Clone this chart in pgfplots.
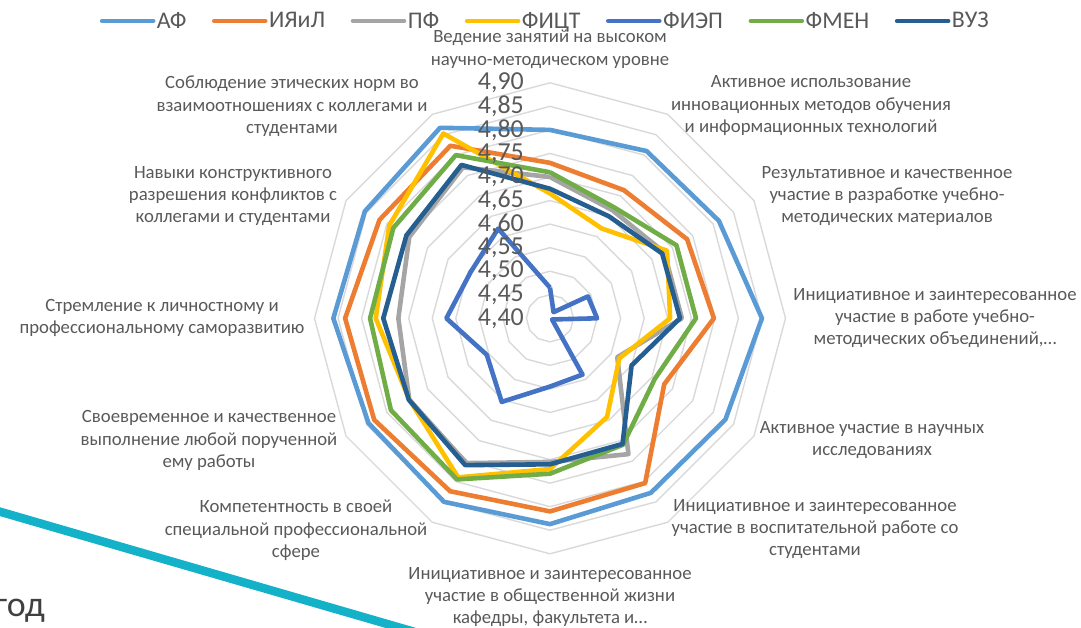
\documentclass[border=0pt]{standalone}
\usepackage{pgfplots}
\pgfplotsset{compat=1.18}
\usepackage{pgfplotstable}
\usepackage{fontspec}
\setmainfont{Carlito}

\definecolor{cAF}{HTML}{5B9BD5}
\definecolor{cIYaiL}{HTML}{ED7D31}
\definecolor{cPF}{HTML}{A5A5A5}
\definecolor{cFICT}{HTML}{FFC000}
\definecolor{cFIEP}{HTML}{4472C4}
\definecolor{cFMEN}{HTML}{70AD47}
\definecolor{cVUZ}{HTML}{255E91}
\definecolor{txt}{HTML}{595959}
\definecolor{gridc}{HTML}{D9D9D9}
\definecolor{cyanline}{RGB}{20,178,200}

\pgfplotstableread{
k AF IYaiL PF FICT FIEP FMEN VUZ
0 4.800 4.730 4.700 4.665 4.465 4.710 4.675
1 4.810 4.714 4.665 4.620 4.415 4.672 4.650
2 4.814 4.736 4.680 4.687 4.493 4.710 4.675
3 4.850 4.748 4.680 4.655 4.500 4.710 4.676
4 4.830 4.680 4.565 4.570 4.405 4.657 4.600
5 4.828 4.804 4.733 4.642 4.538 4.710 4.708
6 4.837 4.810 4.705 4.720 4.545 4.730 4.710
7 4.850 4.824 4.755 4.790 4.605 4.795 4.760
8 4.845 4.831 4.745 4.745 4.555 4.790 4.746
9 4.860 4.835 4.722 4.770 4.620 4.782 4.754
10 4.854 4.818 4.745 4.794 4.595 4.784 4.752
11 4.867 4.823 4.770 4.853 4.620 4.800 4.776
12 4.800 4.730 4.700 4.665 4.465 4.710 4.675
}\data

\newcommand{\radarplot}[2]{\addplot[#1, line width=4.6bp, line join=round] table[x expr={550+(\thisrow{#2}-4.4)*471*sin(30*\thisrow{k})}, y expr={309.7+(\thisrow{#2}-4.4)*471*cos(30*\thisrow{k})}] {\data};}
\newcommand{\lblfont}{\fontsize{18.8}{22.5}\selectfont}
\newcommand{\tickfont}{\fontsize{26}{28}\selectfont}
\newcommand{\tlab}[2]{\node[anchor=east, text=txt, font=\tickfont, inner sep=0pt] at (axis cs:524,#1) {#2};}

\begin{document}
\begin{tikzpicture}
\begin{axis}[
  at={(0,0)}, anchor=origin,
  scale only axis, width=1081bp, height=628bp,
  xmin=0, xmax=1081, ymin=0, ymax=628,
  hide axis, clip=true,
  legend columns=7,
  legend style={at={(0.5042,0.9666)}, anchor=center, draw=none, fill=none,
    font=\fontsize{24}{28}\selectfont, text=txt,
    nodes={inner sep=1.5bp},
    /tikz/every even column/.append style={column sep=24bp}},
  legend image code/.code={\draw[#1, line cap=round] (0bp,0bp) -- (51bp,0bp);},
]
% rings
\pgfplotsinvokeforeach{0.05,0.1,0.15,0.2,0.25,0.3,0.35,0.4,0.45,0.5}{
  \addplot[gridc, line width=1.4bp, forget plot] table[x expr={550+#1*471*sin(30*\thisrow{k})}, y expr={309.7+#1*471*cos(30*\thisrow{k})}] {\data};
}
% decorative line
\addplot[cyanline, line width=8.5bp, forget plot] coordinates {(-10,119.2) (420,-5.5)};

\radarplot{cAF}{AF}
\radarplot{cIYaiL}{IYaiL}
\radarplot{cPF}{PF}
\radarplot{cFICT}{FICT}
\radarplot{cFIEP}{FIEP}
\radarplot{cFMEN}{FMEN}
\radarplot{cVUZ}{VUZ}
\legend{АФ,ИЯиЛ,ПФ,ФИЦТ,ФИЭП,ФМЕН,ВУЗ}

% value labels
\tlab{309.7}{4,40}
\tlab{333.25}{4,45}
\tlab{356.8}{4,50}
\tlab{380.35}{4,55}
\tlab{403.9}{4,60}
\tlab{427.45}{4,65}
\tlab{451.0}{4,70}
\tlab{474.55}{4,75}
\tlab{498.1}{4,80}
\tlab{521.65}{4,85}
\tlab{545.2}{4,90}

% category labels
\node[font=\lblfont, text=txt, align=center] at (axis cs:550,578.7) {Ведение занятий на высоком\\научно-методическом уровне};
\node[font=\lblfont, text=txt, align=center] at (axis cs:811,522.3) {Активное использование\\инновационных методов обучения\\и информационных технологий};
\node[font=\lblfont, text=txt, align=center] at (axis cs:887,432) {Результативное и качественное\\участие в разработке учебно-\\методических материалов};
\node[font=\lblfont, text=txt, align=center] at (axis cs:935,310) {Инициативное и заинтересованное\\участие в работе учебно-\\методических объединений,…};
\node[font=\lblfont, text=txt, align=center] at (axis cs:872,188) {Активное участие в научных\\исследованиях};
\node[font=\lblfont, text=txt, align=center] at (axis cs:815,99) {Инициативное и заинтересованное\\участие в воспитательной работе со\\студентами};
\node[font=\lblfont, text=txt, align=center] at (axis cs:550,31) {Инициативное и заинтересованное\\участие в общественной жизни\\кафедры, факультета и…};
\node[font=\lblfont, text=txt, align=center] at (axis cs:296,97.5) {Компетентность в своей\\специальной профессиональной\\сфере};
\node[font=\lblfont, text=txt, align=center] at (axis cs:209,187.5) {Своевременное и качественное\\выполнение любой порученной\\ему работы};
\node[font=\lblfont, text=txt, align=center] at (axis cs:162,310) {Стремление к личностному и\\профессиональному саморазвитию};
\node[font=\lblfont, text=txt, align=center] at (axis cs:233,432) {Навыки конструктивного\\разрешения конфликтов с\\коллегами и студентами};
\node[font=\lblfont, text=txt, align=center] at (axis cs:292,521.5) {Соблюдение этических норм во\\взаимоотношениях с коллегами и\\студентами};

\node[anchor=base east, font=\fontsize{36}{38}\selectfont, text=black!75, inner sep=0pt] at (axis cs:45,11.3) {год};
\end{axis}
\pgfresetboundingbox
\useasboundingbox (0,0) rectangle (1081bp,628bp);
\end{tikzpicture}
\end{document}
